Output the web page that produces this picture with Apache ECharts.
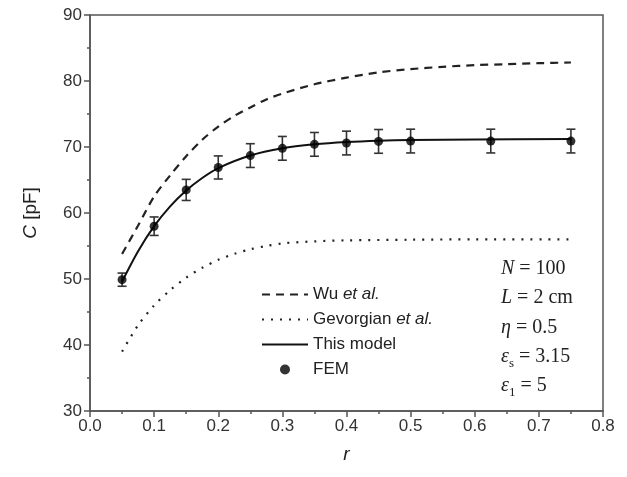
<!DOCTYPE html>
<html>
<head>
<meta charset="utf-8">
<script src="https://cdn.jsdelivr.net/npm/echarts@6/dist/echarts.min.js"></script>
<style>
html,body{margin:0;padding:0;background:#fff;}
#c{width:627px;height:477px;}
</style>
</head>
<body>
<div id="c"></div>
<script>
// ---- data ----
var wuR  = [0.05, 0.075, 0.1, 0.125, 0.15, 0.175, 0.2, 0.225, 0.25, 0.275, 0.3, 0.35, 0.4, 0.45, 0.5, 0.55, 0.6, 0.65, 0.7, 0.75];
var wuC  = [53.8, 58.1, 62.5, 65.7, 68.6, 71.1, 73.1, 74.7, 76.0, 77.2, 78.1, 79.5, 80.5, 81.3, 81.8, 82.15, 82.4, 82.55, 82.7, 82.8];

var gevR = [0.05, 0.075, 0.1, 0.125, 0.15, 0.175, 0.2, 0.225, 0.25, 0.275, 0.3, 0.35, 0.4, 0.5, 0.6, 0.75];
var gevC = [39.0, 43.0, 46.0, 48.3, 50.2, 51.7, 52.9, 53.8, 54.5, 55.0, 55.4, 55.7, 55.85, 55.95, 56.0, 56.0];

var modelR = [0.05, 0.075, 0.1, 0.125, 0.15, 0.175, 0.2, 0.25, 0.3, 0.35, 0.4, 0.45, 0.5, 0.6, 0.75];
var modelC = [49.6, 54.2, 58.0, 61.0, 63.4, 65.3, 66.8, 68.7, 69.8, 70.4, 70.75, 70.95, 71.05, 71.15, 71.2];

var femR   = [0.05, 0.1, 0.15, 0.2, 0.25, 0.3, 0.35, 0.4, 0.45, 0.5, 0.625, 0.75];
var femC   = [49.9, 58.0, 63.5, 66.9, 68.7, 69.8, 70.4, 70.6, 70.85, 70.9, 70.9, 70.9];
var femErr = [1.0, 1.4, 1.6, 1.75, 1.8, 1.8, 1.8, 1.8, 1.8, 1.8, 1.8, 1.8];

var xTicks = [0.0, 0.1, 0.2, 0.3, 0.4, 0.5, 0.6, 0.7, 0.8];
var yTicks = [30, 40, 50, 60, 70, 80, 90];

var seriesNames = ['Wu et al.', 'Gevorgian et al.', 'This model', 'FEM'];
var paramLines = ['{i|N} = 100', '{i|L} = 2 cm', '{i|η} = 0.5', '{i|ε}{sub|s} = 3.15', '{i|ε}{sub|1} = 5'];

// ---- build ----
function zip(a, b) { return a.map(function (v, i) { return [v, b[i]]; }); }
var errData = femR.map(function (r, i) { return [r, femC[i] - femErr[i], femC[i] + femErr[i]]; });

var axisColor = '#555';
var sans = 'Liberation Sans, Arial, sans-serif';
var serif = 'Liberation Serif, Times New Roman, serif';

var chart = echarts.init(document.getElementById('c'), null, {renderer: 'canvas'});
var option = {
  animation: false,
  backgroundColor: '#fff',
  grid: {left: 90, right: 24, top: 15, bottom: 66, show: true, borderColor: axisColor, borderWidth: 1.5, backgroundColor: 'transparent'},
  xAxis: {
    type: 'value', min: xTicks[0], max: xTicks[xTicks.length - 1], interval: 0.1,
    name: 'r', nameLocation: 'middle', nameGap: 34,
    nameTextStyle: {fontFamily: sans, fontSize: 19, fontStyle: 'italic', color: '#222'},
    axisLine: {show: true, lineStyle: {color: axisColor, width: 1.5}},
    axisTick: {show: true, inside: false, length: 6, lineStyle: {color: axisColor, width: 1.5}},
    minorTick: {show: true, splitNumber: 2, length: 3, lineStyle: {color: axisColor, width: 1.5}},
    splitLine: {show: false},
    axisLabel: {fontFamily: sans, fontSize: 17, color: '#333', margin: 7, formatter: function (v) { return v.toFixed(1); }}
  },
  yAxis: {
    type: 'value', min: yTicks[0], max: yTicks[yTicks.length - 1], interval: 10,
    name: '{i|C} [pF]', nameLocation: 'middle', nameGap: 50,
    nameTextStyle: {fontFamily: sans, fontSize: 19, color: '#222', rich: {i: {fontFamily: sans, fontSize: 19, fontStyle: 'italic', color: '#222'}}},
    axisLine: {show: true, lineStyle: {color: axisColor, width: 1.5}},
    axisTick: {show: true, inside: false, length: 6, lineStyle: {color: axisColor, width: 1.5}},
    minorTick: {show: true, splitNumber: 2, length: 3, lineStyle: {color: axisColor, width: 1.5}},
    splitLine: {show: false},
    axisLabel: {fontFamily: sans, fontSize: 17, color: '#333', margin: 8}
  },
  legend: {
    orient: 'vertical', left: 256, top: 281, itemWidth: 46, itemHeight: 10, itemGap: 8,
    data: [
      {name: seriesNames[0], itemStyle: {opacity: 0}},
      {name: seriesNames[1], itemStyle: {opacity: 0}},
      {name: seriesNames[2], itemStyle: {opacity: 0}},
      {name: seriesNames[3], itemStyle: {color: '#000'}}
    ],
    textStyle: {fontFamily: sans, fontSize: 17, color: '#222', rich: {i: {fontFamily: sans, fontSize: 17, fontStyle: 'italic', color: '#222'}}},
    formatter: function (n) { return n.replace(' et al.', ' {i|et al.}'); }
  },
  graphic: paramLines.map(function (t, i) {
    return {
      type: 'text', left: 501, top: 259 + i * 29.2, z: 10,
      style: {
        text: t, fill: '#222', font: '20px ' + serif,
        rich: {
          i: {fontFamily: serif, fontSize: 20, fontStyle: 'italic', fill: '#222'},
          sub: {fontFamily: serif, fontSize: 13, fill: '#222', padding: [14, 0, 0, 0]}
        }
      }
    };
  }),
  series: [
    {name: seriesNames[0], type: 'line', data: zip(wuR, wuC), smooth: 0.3, symbol: 'none',
     lineStyle: {color: '#222', width: 2.2, type: [8, 6]}, itemStyle: {color: '#222'}},
    {name: seriesNames[1], type: 'line', data: zip(gevR, gevC), smooth: 0.3, symbol: 'none',
     lineStyle: {color: '#222', width: 2.2, type: [2, 7]}, itemStyle: {color: '#222'}},
    {name: seriesNames[2], type: 'line', data: zip(modelR, modelC), smooth: 0.3, symbol: 'none',
     lineStyle: {color: '#111', width: 2}, itemStyle: {color: '#111'}},
    {name: 'err', type: 'custom', data: errData, z: 3,
     renderItem: function (params, api) {
       var x = api.value(0);
       var lo = api.coord([x, api.value(1)]);
       var hi = api.coord([x, api.value(2)]);
       var w = 4.5;
       var st = {stroke: '#333', lineWidth: 1.6};
       return {type: 'group', children: [
         {type: 'line', shape: {x1: lo[0], y1: lo[1], x2: hi[0], y2: hi[1]}, style: st},
         {type: 'line', shape: {x1: lo[0] - w, y1: lo[1], x2: lo[0] + w, y2: lo[1]}, style: st},
         {type: 'line', shape: {x1: hi[0] - w, y1: hi[1], x2: hi[0] + w, y2: hi[1]}, style: st}
       ]};
     }},
    {name: seriesNames[3], type: 'scatter', data: zip(femR, femC), symbol: 'circle', symbolSize: 9, z: 4,
     itemStyle: {color: '#000'}}
  ]
};
chart.setOption(option);
</script>
</body>
</html>
